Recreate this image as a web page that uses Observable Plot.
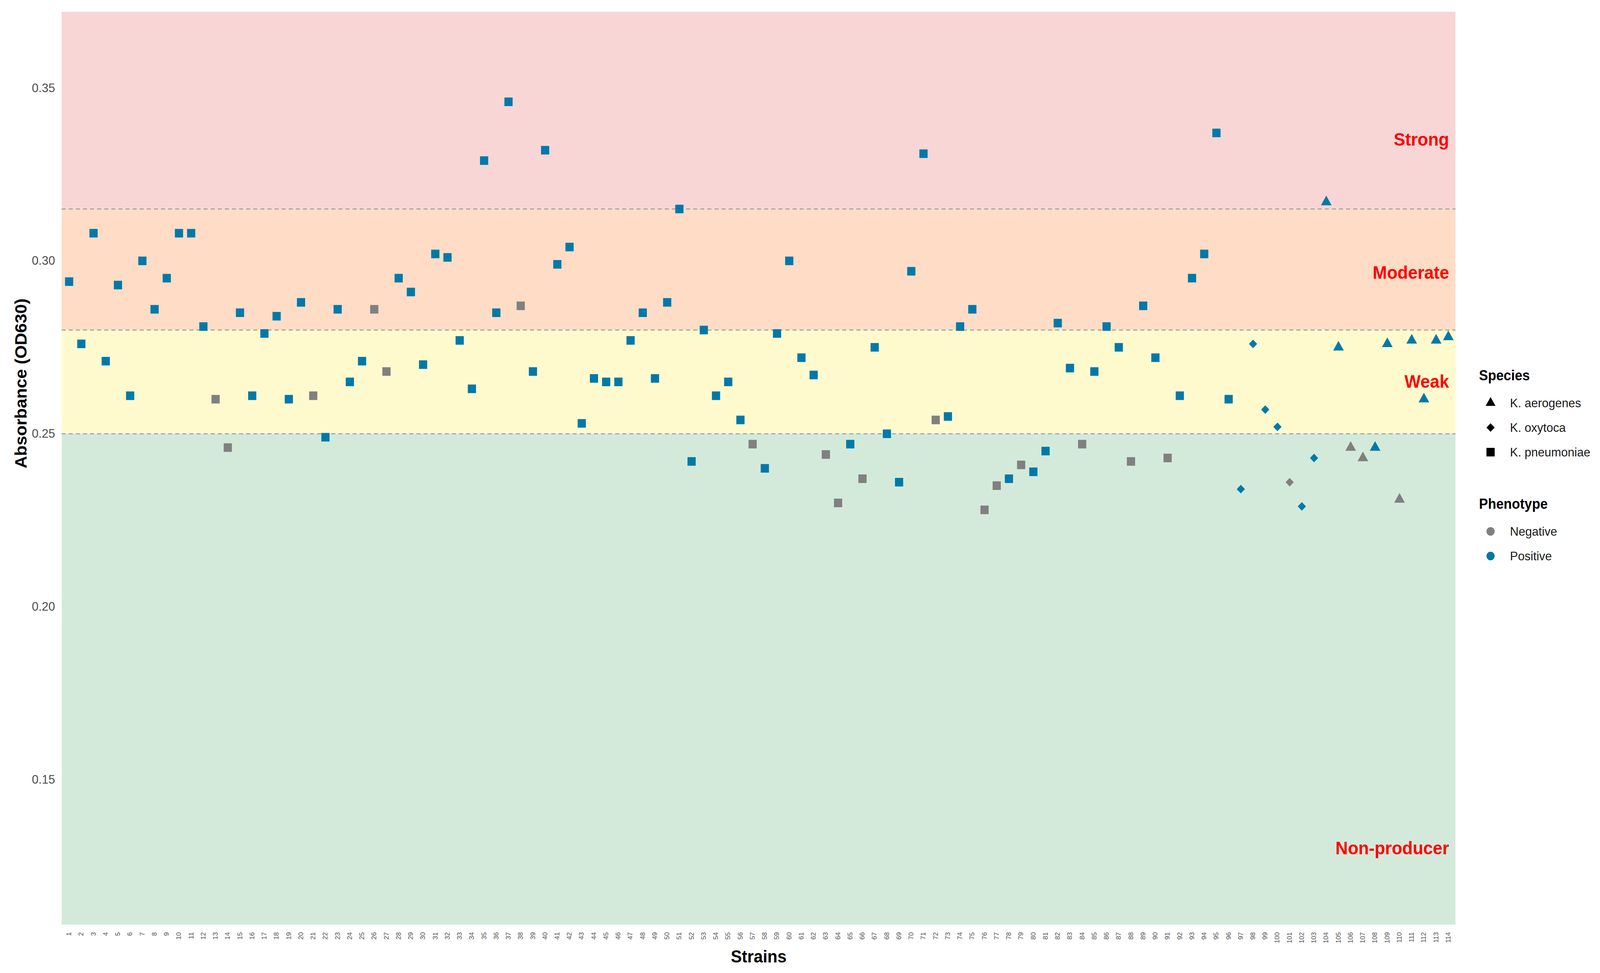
<!DOCTYPE html>
<html>
<head>
<meta charset="utf-8">
<script src="https://cdn.jsdelivr.net/npm/d3@7"></script>
<script src="https://cdn.jsdelivr.net/npm/@observablehq/plot@0.6"></script>
<style>
  html, body { margin: 0; padding: 0; background: #ffffff; overflow: hidden; }
  #wrap { position: absolute; left: 0; top: 0; width: 4284px; height: 2492px; transform-origin: 0 0; font-family: "Liberation Sans", Arial, sans-serif; }
  #wrap > svg { display: block; max-width: none !important; }
  #legend { position: absolute; left: 3900px; top: 900px; }
</style>
</head>
<body>
<div id="wrap"></div>
<script>
// ---------- data ----------
const strains = [
  1,2,3,4,5,6,7,8,9,10,11,12,13,14,15,16,17,18,19,20,
  21,22,23,24,25,26,27,28,29,30,31,32,33,34,35,36,37,38,39,40,
  41,42,43,44,45,46,47,48,49,50,51,52,53,54,55,56,57,58,59,60,
  61,62,63,64,65,66,67,68,69,70,71,72,73,74,75,76,77,78,79,80,
  81,82,83,84,85,86,87,88,89,90,91,92,93,94,95,96,97,98,99,100,
  101,102,103,104,105,106,107,108,109,110,111,112,113,114
];
const absorbance = [
  0.294,0.276,0.308,0.271,0.293,0.261,0.300,0.286,0.295,0.308,
  0.308,0.281,0.260,0.246,0.285,0.261,0.279,0.284,0.260,0.288,
  0.261,0.249,0.286,0.265,0.271,0.286,0.268,0.295,0.291,0.270,
  0.302,0.301,0.277,0.263,0.329,0.285,0.346,0.287,0.268,0.332,
  0.299,0.304,0.253,0.266,0.265,0.265,0.277,0.285,0.266,0.288,
  0.315,0.242,0.280,0.261,0.265,0.254,0.247,0.240,0.279,0.300,
  0.272,0.267,0.244,0.230,0.247,0.237,0.275,0.250,0.236,0.297,
  0.331,0.254,0.255,0.281,0.286,0.228,0.235,0.237,0.241,0.239,
  0.245,0.282,0.269,0.247,0.268,0.281,0.275,0.242,0.287,0.272,
  0.243,0.261,0.295,0.302,0.337,0.260,0.234,0.276,0.257,0.252,
  0.236,0.229,0.243,0.317,0.275,0.246,0.243,0.246,0.276,0.231,
  0.277,0.260,0.277,0.278
];
const speciesNames = ["K. aerogenes", "K. oxytoca", "K. pneumoniae"];
// strain ranges belonging to each species
const speciesFirst = {"K. pneumoniae": 1, "K. oxytoca": 97, "K. aerogenes": 104};
const speciesLast  = {"K. pneumoniae": 96, "K. oxytoca": 103, "K. aerogenes": 114};
const phenotypes = ["Negative", "Positive"];
const negativeStrains = [13,14,21,26,27,38,57,63,64,66,72,76,77,79,84,88,91,101,106,107,110];

const zoneNames = ["Non-producer", "Weak", "Moderate", "Strong"];
const thresholds = [0.25, 0.28, 0.315];
const zoneLabelY = [0.13, 0.265, 0.2965, 0.335];
const yDomain = [0.108, 0.372];
const yTicks = [0.15, 0.20, 0.25, 0.30, 0.35];

// ---------- styles ----------
const zoneFill = ["#D3EADA", "#FFFACE", "#FFDCC6", "#F7D6D5"];
const phenotypeColors = ["#808080", "#0079A8"];
const FONT = "'Liberation Sans', Arial, Helvetica, sans-serif";

// ---------- tables ----------
const rows = strains.map((s, i) => ({
  strain: s,
  od: absorbance[i],
  species: speciesNames.find(n => s >= speciesFirst[n] && s <= speciesLast[n]),
  phenotype: negativeStrains.includes(s) ? "Negative" : "Positive"
}));
const bounds = [yDomain[0], ...thresholds, yDomain[1]];
const zoneTable = zoneNames.map((name, i) => ({name, lo: bounds[i], hi: bounds[i + 1], labelY: zoneLabelY[i]}));
const lastStrain = strains[strains.length - 1];

const symbolOf = {"K. aerogenes": "triangle", "K. oxytoca": "diamond2", "K. pneumoniae": "square"};
const radiusOf = {"K. aerogenes": 10.6, "K. oxytoca": 9.9, "K. pneumoniae": 12.4};

const chart = Plot.plot({
  width: 4284,
  height: 2492,
  marginLeft: 165,
  marginRight: 387,
  marginTop: 30,
  marginBottom: 124,
  x: {domain: [strains[0] - 0.6, lastStrain + 0.6]},
  y: {domain: yDomain},
  color: {domain: phenotypes, range: phenotypeColors},
  style: {fontFamily: FONT, background: "#ffffff", overflow: "visible"},
  marks: [
    ...zoneTable.map((z, i) => Plot.rect([z], {y1: "lo", y2: "hi", fill: zoneFill[i]})),
    Plot.ruleY(thresholds, {stroke: "#9a9a9a", strokeWidth: 2.5, strokeDasharray: "11,8"}),
    ...speciesNames.map(sp => Plot.dot(rows.filter(d => d.species === sp), {
      x: "strain", y: "od", symbol: symbolOf[sp], r: radiusOf[sp], fill: "phenotype", stroke: "none"
    })),
    Plot.text(zoneTable, {
      x: () => lastStrain, y: "labelY", text: "name", textAnchor: "end", lineAnchor: "middle",
      fill: "#FF0000", fontWeight: "bold", fontSize: 46, dx: 2
    }),
    Plot.axisX({
      ticks: strains, tickFormat: d => String(d), tickRotate: -90, tickSize: 0, tickPadding: 19,
      fontSize: 17, fill: "#4d4d4d", label: null
    }),
    Plot.axisY({
      ticks: yTicks, tickFormat: ".2f", tickSize: 0, tickPadding: 18,
      fontSize: 32, fill: "#4d4d4d", label: null
    }),
    Plot.text(["Strains"], {frameAnchor: "bottom", dy: 82, lineAnchor: "middle", fontWeight: "bold", fontSize: 44, fill: "#000"}),
    Plot.text(["Absorbance (OD630)"], {frameAnchor: "left", dx: -108, rotate: -90, lineAnchor: "middle", fontWeight: "bold", fontSize: 44, fill: "#000"})
  ]
});
const wrap = document.getElementById("wrap");
wrap.appendChild(chart);

// ---------- legend (HTML overlay) ----------
const lg = d3.select(wrap).append("svg")
  .attr("id", "legend")
  .attr("width", 384).attr("height", 600)
  .style("font-family", FONT);

const legendSymbols = {"K. aerogenes": [d3.symbolTriangle, 300], "K. oxytoca": [d3.symbolDiamond2, 308], "K. pneumoniae": [d3.symbolSquare, 484]};
lg.append("text").attr("x", 60).attr("y", 61).attr("dy", "0.35em")
  .attr("font-size", 36).attr("font-weight", "bold").attr("fill", "#000").text("Species");
speciesNames.forEach((sp, i) => {
  const cy = 132 + i * 63;
  lg.append("path").attr("transform", `translate(91,${cy})`)
    .attr("d", d3.symbol(legendSymbols[sp][0], legendSymbols[sp][1])()).attr("fill", "#000");
  lg.append("text").attr("x", 143).attr("y", cy).attr("dy", "0.35em")
    .attr("font-size", 32).attr("fill", "#1a1a1a").text(sp);
});
lg.append("text").attr("x", 60).attr("y", 390).attr("dy", "0.35em")
  .attr("font-size", 36).attr("font-weight", "bold").attr("fill", "#000").text("Phenotype");
phenotypes.forEach((p, i) => {
  const cy = 461 + i * 63;
  lg.append("path").attr("transform", `translate(91,${cy})`)
    .attr("d", d3.symbol(d3.symbolCircle, 380)()).attr("fill", phenotypeColors[i]);
  lg.append("text").attr("x", 143).attr("y", cy).attr("dy", "0.35em")
    .attr("font-size", 32).attr("fill", "#1a1a1a").text(p);
});

// fit the 4284x2492 layout to the actual viewport
function fit() {
  const vw = document.documentElement.clientWidth || window.innerWidth;
  const vh = document.documentElement.clientHeight || window.innerHeight;
  wrap.style.transform = `scale(${vw / 4284}, ${vh / 2492})`;
}
fit();
</script>
</body>
</html>
